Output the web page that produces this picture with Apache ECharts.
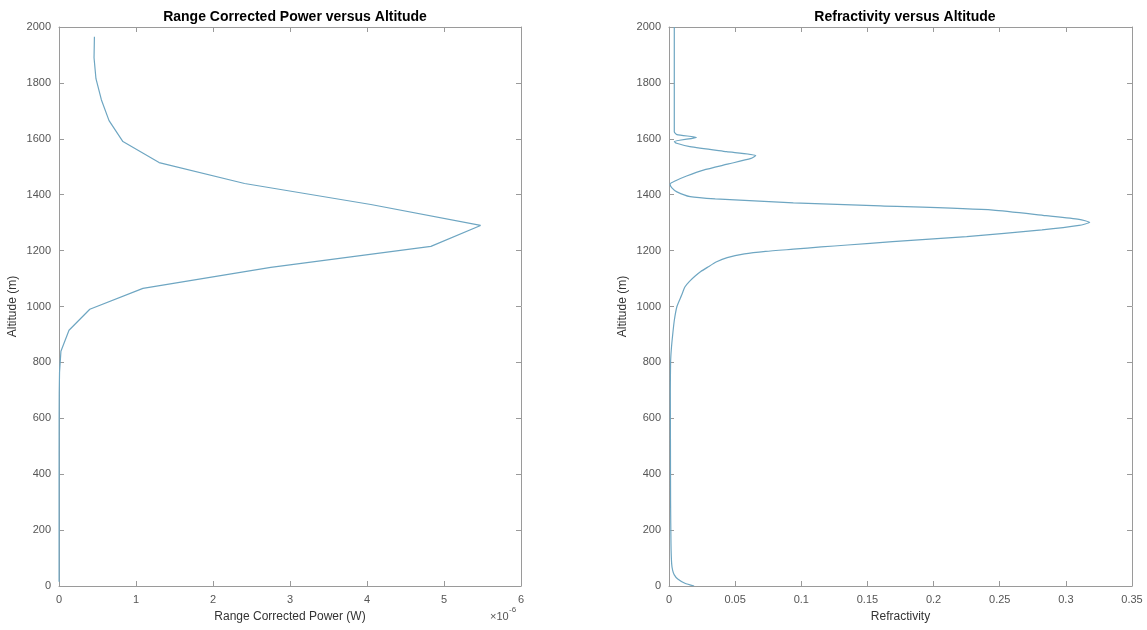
<!DOCTYPE html>
<html>
<head>
<meta charset="utf-8">
<script src="https://cdn.jsdelivr.net/npm/echarts@6/dist/echarts.min.js"></script>
<style>
  html, body { margin: 0; padding: 0; background: #fff; }
  #main { width: 1147px; height: 630px; }
</style>
</head>
<body>
<div id="main"></div>
<script>
  // left panel: range corrected power (x 1e-6 W) per altitude (m)
  var powerAlt = [15, 90, 165, 240, 315, 390, 465, 540, 615, 690, 765, 840, 915, 990,
    1065, 1140, 1215, 1290, 1365, 1440, 1515, 1590, 1665, 1740, 1815, 1890, 1965];
  var powerVal = [0.001, 0.001, 0.001, 0.001, 0.001, 0.001, 0.0012, 0.0015, 0.0018, 0.003, 0.007, 0.025, 0.13, 0.40,
    1.09, 2.75, 4.83, 5.475, 4.05, 2.41, 1.30, 0.83, 0.65, 0.55, 0.48, 0.455, 0.46];

  // right panel: refractivity per altitude (m)
  var refAlt = [0, 10, 25, 40, 55, 80, 150, 300, 500, 700, 800, 850, 900, 950, 1000, 1040, 1070, 1090, 1110, 1125, 1140,
    1160, 1175, 1188, 1197, 1205, 1213, 1220, 1232, 1250, 1274, 1290, 1301, 1312, 1325, 1345, 1360, 1371, 1385, 1393,
    1410, 1425, 1438, 1450, 1467, 1488, 1510, 1530, 1540, 1554, 1572, 1584, 1590, 1605, 1615, 1625,
    1700, 1850, 2000];
  var refVal = [0.019, 0.012, 0.0066, 0.004, 0.0028, 0.002, 0.0015, 0.0012, 0.0011, 0.001, 0.0012, 0.0018, 0.0028,
    0.004, 0.006, 0.0095, 0.012, 0.0155, 0.02, 0.024, 0.029,
    0.036, 0.044, 0.057, 0.073, 0.094, 0.115, 0.135, 0.169, 0.225, 0.282, 0.31, 0.318, 0.31, 0.285, 0.245, 0.16, 0.094, 0.035, 0.016,
    0.006, 0.002, 0.0008, 0.005, 0.0133, 0.026, 0.045, 0.062, 0.0656, 0.0435, 0.0158, 0.0058, 0.004, 0.0207, 0.006, 0.004,
    0.004, 0.004, 0.004];

  var lineColor = '#6ea6c2';
  var axisColor = '#9a9a9a';
  var labelColor = '#555';
  var font = 'Liberation Sans, Arial, sans-serif';

  function pairs(xs, ys) {
    var out = [];
    for (var i = 0; i < xs.length; i++) out.push([xs[i], ys[i]]);
    return out;
  }
  function plain(v) { return String(v); }

  function mainX(grid, max, interval, name) {
    return {
      gridIndex: grid, type: 'value', min: 0, max: max, interval: interval, position: 'bottom',
      name: name, nameLocation: 'middle', nameGap: 25,
      nameTextStyle: { color: '#333', fontSize: 12, fontFamily: font },
      axisLine: { onZero: false, lineStyle: { color: axisColor } },
      axisTick: { inside: true, length: 5, lineStyle: { color: axisColor } },
      axisLabel: { color: labelColor, fontSize: 11, fontFamily: font, margin: 8, formatter: plain },
      splitLine: { show: false }
    };
  }
  function boxX(grid, max, interval) {
    return {
      gridIndex: grid, type: 'value', min: 0, max: max, interval: interval, position: 'top',
      axisLine: { onZero: false, lineStyle: { color: axisColor } },
      axisTick: { inside: true, length: 5, lineStyle: { color: axisColor } },
      axisLabel: { show: false }, splitLine: { show: false }
    };
  }
  function mainY(grid) {
    return {
      gridIndex: grid, type: 'value', min: 0, max: 2000, interval: 200, position: 'left',
      name: 'Altitude (m)', nameLocation: 'middle', nameGap: 40,
      nameTextStyle: { color: '#333', fontSize: 12, fontFamily: font },
      axisLine: { show: true, onZero: false, lineStyle: { color: axisColor } },
      axisTick: { show: true, inside: true, length: 5, lineStyle: { color: axisColor } },
      axisLabel: { color: labelColor, fontSize: 11, fontFamily: font, margin: 8, formatter: plain },
      splitLine: { show: false }
    };
  }
  function boxY(grid) {
    return {
      gridIndex: grid, type: 'value', min: 0, max: 2000, interval: 200, position: 'right',
      axisLine: { show: true, onZero: false, lineStyle: { color: axisColor } },
      axisTick: { show: true, inside: true, length: 5, lineStyle: { color: axisColor } },
      axisLabel: { show: false }, splitLine: { show: false }
    };
  }

  var chart = echarts.init(document.getElementById('main'));
  chart.setOption({
    backgroundColor: '#fff',
    animation: false,
    title: [
      { text: 'Range Corrected Power versus Altitude', left: 290, top: 5, textAlign: 'center',
        textStyle: { fontSize: 14, fontWeight: 'bold', color: '#000', fontFamily: font } },
      { text: 'Refractivity versus Altitude', left: 900, top: 5, textAlign: 'center',
        textStyle: { fontSize: 14, fontWeight: 'bold', color: '#000', fontFamily: font } }
    ],
    grid: [
      { left: 59, right: 626, top: 27, bottom: 44 },
      { left: 669, right: 15, top: 27, bottom: 44 }
    ],
    xAxis: [
      mainX(0, 6, 1, 'Range Corrected Power (W)'),
      mainX(1, 0.35, 0.05, 'Refractivity'),
      boxX(0, 6, 1),
      boxX(1, 0.35, 0.05)
    ],
    yAxis: [mainY(0), mainY(1), boxY(0), boxY(1)],
    graphic: [
      { type: 'text', left: 490, top: 611,
        style: { text: '×10', fill: labelColor, font: '11px ' + font } },
      { type: 'text', left: 509, top: 606,
        style: { text: '-6', fill: labelColor, font: '8px ' + font } }
    ],
    series: [
      { type: 'line', xAxisIndex: 0, yAxisIndex: 0, showSymbol: false, symbol: 'none',
        lineStyle: { color: lineColor, width: 1.2 },
        data: pairs(powerVal, powerAlt) },
      { type: 'line', xAxisIndex: 1, yAxisIndex: 1, showSymbol: false, symbol: 'none', smooth: 0.2,
        lineStyle: { color: lineColor, width: 1.2 },
        data: pairs(refVal, refAlt) }
    ]
  });
  window.addEventListener('resize', function () { chart.resize(); });
</script>
</body>
</html>
